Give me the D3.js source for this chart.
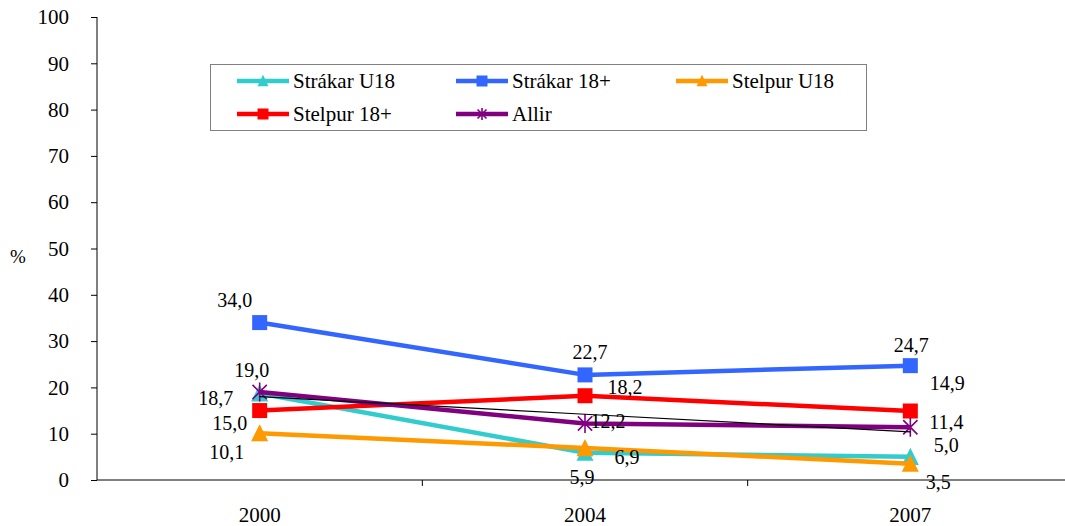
<!DOCTYPE html>
<meta charset="utf-8">
<script src="https://d3js.org/d3.v7.min.js"></script>
<style>
  body { margin: 0; background: #fff; }
</style>
<body></body>
<script>
// data
var years = ["2000", "2004", "2007"];
var yTicks = [0, 10, 20, 30, 40, 50, 60, 70, 80, 90, 100];

var strakarU18 = [18.7, 5.9, 5.0];
var strakar18 = [34.0, 22.7, 24.7];
var stelpurU18 = [10.1, 6.9, 3.5];
var stelpur18 = [15.0, 18.2, 14.9];
var allir = [19.0, 12.2, 11.4];

var seriesNames = ["Strákar U18", "Strákar 18+", "Stelpur U18", "Stelpur 18+", "Allir"];

var FONT = "'Liberation Serif', 'Times New Roman', 'DejaVu Serif', serif";

// styles + label placement (pixels from the point)
var series = [
  {name: seriesNames[0], values: strakarU18, color: "#33CCCC", marker: "triangle",
   off: [[-44, 5], [-3, 24], [36, -12]]},
  {name: seriesNames[1], values: strakar18, color: "#3366FF", marker: "square",
   off: [[-25, -23], [5, -23], [1, -21]]},
  {name: seriesNames[2], values: stelpurU18, color: "#FF9900", marker: "triangle",
   off: [[-33, 19], [42, 9], [28, 18]]},
  {name: seriesNames[3], values: stelpur18, color: "#FF0000", marker: "square",
   off: [[-30, 12], [40, -9], [37, -28]]},
  {name: seriesNames[4], values: allir, color: "#800080", marker: "star",
   off: [[-8, -22], [23, -3], [36, -5]]}
];

var width = 1065, height = 526;
var svg = d3.select("body").append("svg")
    .attr("width", width).attr("height", height)
    .style("font-family", FONT);

var x = d3.scaleBand().domain(years).range([97, 1073]);
var y = d3.scaleLinear().domain([0, 100]).range([480, 17]);
var cx = function(i) { return x(years[i]) + x.bandwidth() / 2; };

// y axis
var yAxis = svg.append("g").attr("transform", "translate(97,0)")
  .call(d3.axisLeft(y).tickValues(yTicks).tickSize(6).tickPadding(22).tickFormat(d3.format("d")));
yAxis.attr("font-family", null).attr("font-size", null);
yAxis.select(".domain").attr("stroke", "#000").attr("d", "M0,17V480");
yAxis.selectAll(".tick line").attr("stroke", "#000");
yAxis.selectAll(".tick text").style("font-size", "21px").style("font-family", FONT).attr("fill", "#000");

// x axis
var xAxis = svg.append("g").attr("transform", "translate(0,480)")
  .call(d3.axisBottom(x).tickSize(0).tickPadding(27));
xAxis.attr("font-family", null).attr("font-size", null);
xAxis.select(".domain").attr("stroke", "#000").attr("d", "M97,0H1073");
xAxis.selectAll(".tick text").style("font-size", "21px").style("font-family", FONT).attr("fill", "#000");
// category boundary ticks
svg.append("g").selectAll("line").data(years.slice(1)).enter().append("line")
  .attr("x1", function(d) { return x(d); }).attr("x2", function(d) { return x(d); })
  .attr("y1", 480).attr("y2", 486).attr("stroke", "#000");

svg.append("text").attr("x", 18).attr("y", 263).attr("text-anchor", "middle")
  .style("font-size", "19px").style("font-family", FONT).text("%");

var line = d3.line().x(function(d, i) { return cx(i); }).y(function(d) { return y(d); });

function drawMarker(g, type, color, px, py, s) {
  if (type === "square") {
    g.append("rect").attr("x", px - s / 2).attr("y", py - s / 2)
      .attr("width", s).attr("height", s).attr("fill", color);
  } else if (type === "triangle") {
    var h = s * 0.95;
    g.append("path")
      .attr("d", "M" + px + "," + (py - h / 2 - 1) + "L" + (px + s / 2) + "," + (py + h / 2) + "L" + (px - s / 2) + "," + (py + h / 2) + "Z")
      .attr("fill", color);
  } else {
    var r = s / 2;
    var a = r * 0.75;
    g.append("path")
      .attr("d", "M" + (px - a) + "," + (py - a) + "L" + (px + a) + "," + (py + a) +
                 "M" + (px + a) + "," + (py - a) + "L" + (px - a) + "," + (py + a) +
                 "M" + px + "," + (py - r) + "L" + px + "," + (py + r))
      .attr("stroke", color).attr("stroke-width", 1.6).attr("fill", "none");
  }
}

var markerSize = {square: 15, triangle: 17, star: 19};

series.forEach(function(s) {
  var g = svg.append("g");
  g.append("path").datum(s.values).attr("d", line)
    .attr("fill", "none").attr("stroke", s.color).attr("stroke-width", 4.5)
    .attr("stroke-linejoin", "round");
  s.values.forEach(function(v, i) {
    drawMarker(g, s.marker, s.color, cx(i), y(v), markerSize[s.marker]);
  });
});

// linear trend for Allir (least squares over category index)
var idx = years.map(function(d, i) { return i + 1; });
var mx = d3.mean(idx), my = d3.mean(allir);
var slope = d3.sum(idx, function(t, i) { return (t - mx) * (allir[i] - my); }) /
            d3.sum(idx, function(t) { return (t - mx) * (t - mx); });
var trend = idx.map(function(t) { return my + slope * (t - mx); });
svg.append("path").datum(trend).attr("d", line)
  .attr("fill", "none").attr("stroke", "#000").attr("stroke-width", 1.2);

// data labels
series.forEach(function(s) {
  s.values.forEach(function(v, i) {
    svg.append("text")
      .attr("x", cx(i) + s.off[i][0]).attr("y", y(v) + s.off[i][1])
      .attr("text-anchor", "middle").attr("dominant-baseline", "central")
      .style("font-size", "20px").style("font-family", FONT)
      .text(d3.format(".1f")(v).replace(".", ","));
  });
});

// legend
var legend = svg.append("g");
legend.append("rect").attr("x", 210.5).attr("y", 64.5).attr("width", 656).attr("height", 66)
  .attr("fill", "#fff").attr("stroke", "#808080").attr("stroke-width", 1);
var legPos = [[237, 81], [456, 81], [676, 81], [237, 114], [456, 114]];
series.forEach(function(s, i) {
  var lx = legPos[i][0], ly = legPos[i][1];
  legend.append("line").attr("x1", lx).attr("x2", lx + 52).attr("y1", ly).attr("y2", ly)
    .attr("stroke", s.color).attr("stroke-width", 4.5);
  drawMarker(legend, s.marker, s.color, lx + 26, ly, s.marker === "star" ? 12 : 11);
  legend.append("text").attr("x", lx + 56).attr("y", ly).attr("dominant-baseline", "central")
    .style("font-size", "21px").style("font-family", FONT).text(s.name);
});
</script>
